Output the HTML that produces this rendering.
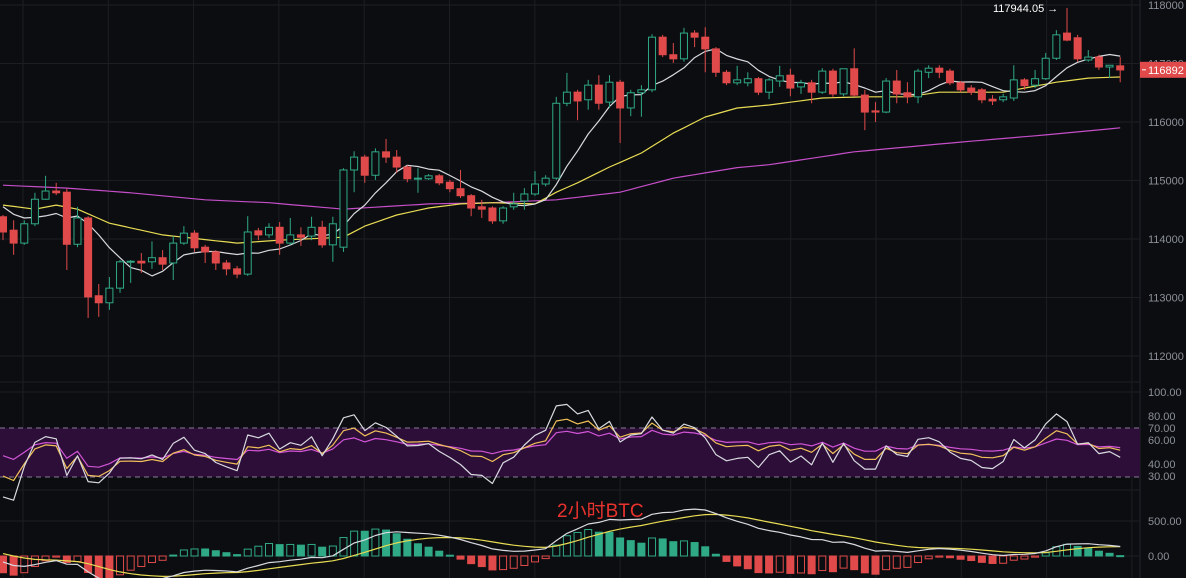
<!DOCTYPE html>
<html><head><meta charset="utf-8">
<style>
html,body{margin:0;padding:0;background:#0c0d10;overflow:hidden}
svg{display:block}
text{font-family:"Liberation Sans","Noto Sans CJK SC",sans-serif}
</style></head>
<body>
<svg id="chart" width="1186" height="578" viewBox="0 0 1186 578" xmlns="http://www.w3.org/2000/svg">
<rect width="1186" height="578" fill="#0c0d10"/>
<g id="grid"></g>
<rect x="0" y="428" width="1140" height="49" fill="#2c0e38"/>
<line x1="0" y1="428" x2="1140" y2="428" stroke="#8a7a9a" stroke-dasharray="5,4"/>
<line x1="0" y1="477" x2="1140" y2="477" stroke="#8a7a9a" stroke-dasharray="5,4"/>
<g id="lines"></g>
<g id="candles"></g>
<g id="macd"></g>
<g id="macdlines"></g>
<g id="axis"></g>
<text x="993" y="12" fill="#ffffff" font-size="11">117944.05 →</text>
<text x="557" y="517" fill="#e8322e" font-size="19">2小时BTC</text>
</svg>
<script>
const warmupCloses=[114200,114350,114500,114450,114600,114750,114700,114850,115000,114950,115100,115200,115150,115300,115250,115400,115350,115200,115300,115100,115000,115050,114900,114800,114850,114700,114600,114650,114500,114450];
const opens=[114380,114150,113930,114260,114680,114820,114800,113910,114360,113030,112910,113160,113610,113620,113610,113680,113590,113930,114100,113860,113780,113590,113490,113400,114140,114070,114200,113930,114070,114050,114200,113900,113860,115180,115400,115090,115490,115400,115230,115030,115030,115080,114970,114860,114740,114550,114530,114310,114550,114650,114770,114940,115040,116320,116510,116380,116630,116340,116680,116240,116500,116550,117450,117150,117080,117520,117450,117250,116850,116670,116670,116740,116510,116700,116800,116600,116670,116510,116870,116480,116910,116460,116190,116170,116700,116500,116430,116850,116920,116870,116670,116580,116550,116390,116380,116410,116720,116630,116740,117090,117520,117440,117060,117110,116940,116960];
const highs=[114410,114320,114320,114790,115080,114960,114860,114550,114390,113230,113350,113640,113640,113760,113960,113810,114050,114220,114150,113900,113810,113640,113540,114390,114190,114270,114290,114360,114200,114380,114310,114380,115210,115500,115440,115550,115710,115520,115260,115210,115110,115110,115010,115180,114770,114670,114560,114560,114790,114870,115160,115090,116430,116840,116550,116720,116800,116800,116720,116550,116630,117500,117490,117350,117610,117570,117620,117280,116890,116960,116850,116770,116750,116960,116910,116720,116720,116920,116910,116910,117260,116550,116340,116750,116890,116680,116910,116970,116970,116910,116700,116630,116580,116460,116480,116970,116750,116890,117180,117570,117950,117490,117230,117150,116970,117110];
const lows=[113980,113730,113900,114220,114670,114750,113470,113860,112650,112670,112790,113080,113250,113420,113490,113470,113300,113900,113780,113590,113470,113380,113330,113370,113980,114020,113730,113900,113880,113980,113850,113610,113780,114800,114960,115010,115300,115130,114970,114790,115010,114920,114800,114700,114390,114360,114260,114260,114500,114500,114740,114900,115010,116270,116030,116210,116210,116240,115640,116100,116090,116510,117110,117010,117030,117280,116850,116770,116630,116630,116610,116460,116390,116600,116440,116480,116320,116480,116430,116440,116430,115860,116000,116150,116320,116320,116320,116750,116750,116630,116510,116460,116320,116290,116340,116360,116550,116580,116720,117060,117380,117030,117030,116890,116750,116680];
const closes=[114120,113930,114260,114680,114820,114790,113910,114360,113010,112910,113160,113610,113620,113590,113680,113570,113930,114100,113850,113780,113590,113490,113400,114120,114070,114200,113930,114070,114030,114200,113900,114260,115180,115400,115090,115490,115400,115230,115030,115040,115080,114960,114860,114740,114530,114510,114310,114530,114600,114770,114940,115040,116320,116510,116360,116630,116320,116680,116240,116500,116550,117450,117150,117080,117520,117450,117250,116850,116670,116720,116740,116510,116720,116790,116580,116670,116510,116870,116480,116910,116460,116170,116170,116700,116480,116430,116870,116920,116850,116670,116550,116510,116380,116360,116430,116720,116620,116740,117090,117490,117400,117080,117110,116940,116970,116890];
const ma25Idx=[0,3,5,7,10,15,22,26,32,34,37,40,43,46,50,52,54,57,60,63,66,69,72,77,81,85,88,94,96,99,102,105];
const ma25Vals=[114580,114510,114580,114510,114270,114070,113930,113980,114030,114220,114410,114530,114600,114620,114600,114800,114960,115230,115470,115810,116085,116240,116290,116410,116430,116430,116510,116510,116580,116680,116750,116770];
const ma99Idx=[0,6,12,19,25,32,40,46,52,58,63,69,72,80,89,98,105];
const ma99Vals=[114920,114870,114790,114670,114620,114510,114600,114620,114670,114800,115040,115220,115270,115490,115640,115780,115900];
const priceTicks=[118000,117000,116000,115000,114000,113000,112000];
const rsiTicks=[100,80,70,60,40,30];
const macdTicks=[500,0];
const lastPrice=116892;

const NS="http://www.w3.org/2000/svg";
const N=Math.min(opens.length,highs.length,lows.length,closes.length);
const W=warmupCloses.length;
const allC=warmupCloses.concat(closes.slice(0,N));
const PW=1140;
function xOf(i){return 3+10.64*i;}
function yP(p){return 122-(p-116000)*0.0585;}
function yR(v){return 392+(100-v)*1.2;}
function yM(v){return 556-v*0.07;}
function mk(tag,attrs,parent){const e=document.createElementNS(NS,tag);for(const k in attrs)e.setAttribute(k,attrs[k]);parent.appendChild(e);return e;}
const grid=document.getElementById('grid'),lines=document.getElementById('lines'),cg=document.getElementById('candles'),mg=document.getElementById('macd'),ml=document.getElementById('macdlines'),ax=document.getElementById('axis');

for(let k=0;k<14;k++){const x=23+85.3*k;const l=mk('line',{x1:x,y1:0,x2:x,y2:578,stroke:'#1c1e23'},grid);

}
priceTicks.forEach(p=>{const l=mk('line',{x1:0,y1:yP(p),x2:PW,y2:yP(p),stroke:'#1c1e23'},grid);

});
[382,392,464,490,521,556].forEach(y=>{const l=mk('line',{x1:0,y1:y,x2:PW,y2:y,stroke:'#1c1e23'},grid);

});
{const l=mk('line',{x1:PW,y1:0,x2:PW,y2:578,stroke:'#23252b'},grid);

}

function poly(pts,color,parent,name,w){const p=mk('polyline',{points:pts.map(a=>a[0].toFixed(1)+','+a[1].toFixed(1)).join(' '),fill:'none',stroke:color,'stroke-width':w||1.2,'stroke-linejoin':'round'},parent);

return p;}
function interp(idx,vals){const out=[];for(let i=0;i<N;i++){let j=0;while(j<idx.length-2&&idx[j+1]<i)j++;const t=(i-idx[j])/(idx[j+1]-idx[j]);out.push(vals[j]+(vals[j+1]-vals[j])*Math.max(0,Math.min(1,t)));}return out;}

const ma99=interp(ma99Idx,ma99Vals),ma25=interp(ma25Idx,ma25Vals);
const ma7=[];for(let i=0;i<N;i++){const s=allC.slice(W+i-6,W+i+1);ma7.push(s.reduce((a,b)=>a+b,0)/s.length);}
poly(ma99.map((v,i)=>[xOf(i),yP(v)]),'#c54ec9',lines,'ma99-line');
poly(ma25.map((v,i)=>[xOf(i),yP(v)]),'#e8dc54',lines,'ma25-line');
poly(ma7.map((v,i)=>[xOf(i),yP(v)]),'#d8dae0',lines,'ma7-line');

const UP='#2fa986',DN='#e04a4a';
for(let i=0;i<N;i++){const x=xOf(i),up=closes[i]>=opens[i],col=up?UP:DN;
const yt=yP(Math.max(opens[i],closes[i])),yb=yP(Math.min(opens[i],closes[i]));
const w=mk('line',{x1:x,y1:yP(highs[i]),x2:x,y2:yP(lows[i]),stroke:col,'stroke-width':1},cg);


const b=mk('rect',{x:x-3.5,y:yt,width:7,height:Math.max(1,yb-yt),fill:up?'#0c0d10':col,stroke:col,'stroke-width':1},cg);

}

function rsi(n){const out=[];let ag=0,al=0;for(let i=0;i<allC.length;i++){if(i===0){out.push(50);continue;}const d=allC[i]-allC[i-1];const g=Math.max(d,0),l=Math.max(-d,0);
if(i<=n){ag=(ag*(i-1)+g)/i;al=(al*(i-1)+l)/i;}else{ag=(ag*(n-1)+g)/n;al=(al*(n-1)+l)/n;}
out.push(al===0?100:100-100/(1+ag/al));}return out.slice(W);}
const r24=rsi(24),r12=rsi(12),r6=rsi(6);
poly(r24.map((v,i)=>[xOf(i),yR(v)]),'#d255d6',lines,'rsi24-line');
poly(r12.map((v,i)=>[xOf(i),yR(v)]),'#f1c15a',lines,'rsi12-line');
poly(r6.map((v,i)=>[xOf(i),yR(v)]),'#d8dae0',lines,'rsi6-line');

function ema(arr,n){const k=2/(n+1);const o=[];arr.forEach((v,i)=>o.push(i?o[i-1]+k*(v-o[i-1]):v));return o;}
const e12=ema(allC,12),e26=ema(allC,26);
const difAll=e12.map((v,i)=>v-e26[i]);const deaAll=ema(difAll,9);
const dif=difAll.slice(W),dea=deaAll.slice(W);const histAll=difAll.map((v,i)=>2*(v-deaAll[i]));const hist=histAll.slice(W);
for(let i=0;i<N;i++){const h=hist[i],prev=histAll[W+i-1],col=h>=0?UP:DN,rising=h>prev;const y0=yM(0),y1=Math.min(578,yM(h));
const r=mk('rect',{x:xOf(i)-3.5,y:Math.min(y0,y1),width:7,height:Math.max(1,Math.abs(y1-y0)),fill:rising?'#0c0d10':col,stroke:col,'stroke-width':1},mg);

}
poly(dea.map((v,i)=>[xOf(i),yM(v)]),'#e8dc54',ml,'macd-dea-line');
poly(dif.map((v,i)=>[xOf(i),yM(v)]),'#d8dae0',ml,'macd-dif-line');

function lab(t,y,name){const e=mk('text',{x:1148,y:y+4,fill:'#8b9099','font-size':11},ax);e.textContent=t;

}
priceTicks.forEach(p=>lab(String(p),yP(p),'price-tick-label'));
rsiTicks.forEach(v=>lab(v.toFixed(2),yR(v),'rsi-tick-label'));
macdTicks.forEach(v=>lab(v.toFixed(2),yM(v),'macd-tick-label'));
const ly=yP(lastPrice);
const bx=mk('rect',{x:1140,y:ly-8,width:46,height:16,fill:'#e04a4a'},ax);


const dl=mk('line',{x1:1142,y1:ly,x2:1146,y2:ly,stroke:'#ffffff'},ax);


const lt=mk('text',{x:1148,y:ly+4,fill:'#ffffff','font-size':11},ax);lt.textContent=String(lastPrice);


</script>
</body></html>
